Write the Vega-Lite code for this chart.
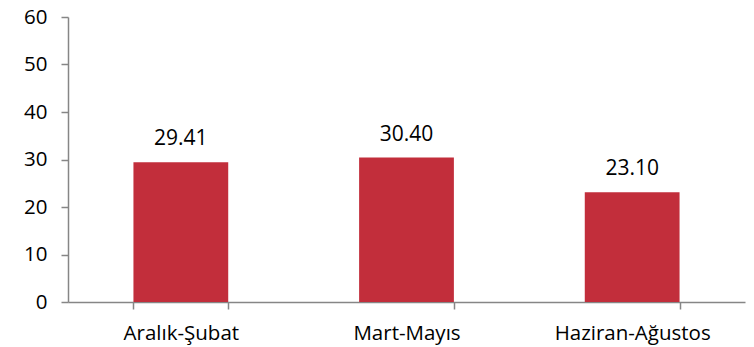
{
  "$schema": "https://vega.github.io/schema/vega-lite/v6.json",
  "autosize": {"type": "none"},
  "padding": {"left": 68, "top": 17, "right": 9, "bottom": 45},
  "width": 677,
  "height": 285,
  "background": "white",
  "config": {"view": {"stroke": null}, "font": "Open Sans"},
  "data": {"values": [
    {"period": "Aralık-Şubat", "value": 29.41},
    {"period": "Mart-Mayıs", "value": 30.40},
    {"period": "Haziran-Ağustos", "value": 23.10}
  ]},
  "encoding": {
    "x": {"field": "period", "type": "nominal", "sort": null,
      "scale": {"paddingInner": 0.58, "paddingOuter": 0.29},
      "axis": {"title": null, "labelAngle": 0, "labelFontSize": 20.5, "labelColor": "#000000", "labelFont": "Open Sans",
        "domainColor": "#868686", "domainWidth": 1.5, "tickColor": "#868686", "tickWidth": 1.5, "tickSize": 7, "tickBand": "extent", "labelPadding": 14}},
    "y": {"field": "value", "type": "quantitative",
      "scale": {"domain": [0, 60], "nice": false},
      "axis": {"title": null, "values": [0, 10, 20, 30, 40, 50, 60], "grid": false, "labelFontSize": 20.5, "labelColor": "#000000", "labelFont": "Open Sans",
        "domainColor": "#868686", "domainWidth": 1.5, "tickColor": "#868686", "tickWidth": 1.5, "tickSize": 7, "labelPadding": 14}}
  },
  "layer": [
    {"mark": {"type": "bar", "color": "#C22E3B"}},
    {"mark": {"type": "text", "baseline": "bottom", "dy": -13, "fontSize": 21, "font": "Open Sans", "color": "#000000"},
     "encoding": {"text": {"field": "value", "type": "quantitative", "format": ".2f"}}}
  ]
}
